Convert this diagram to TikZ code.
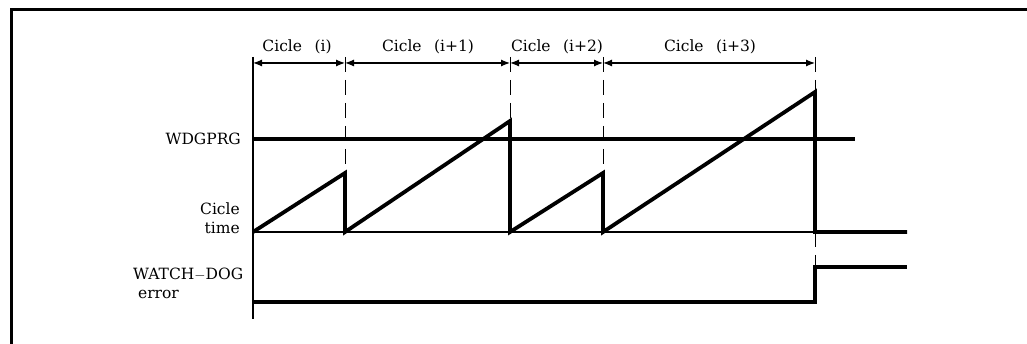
\documentclass[tikz,border=0pt]{standalone}
\usepackage{fontspec}
\setmainfont{DejaVu Serif}
\usetikzlibrary{arrows.meta}
\begin{document}
\begin{tikzpicture}[x=1pt,y=-1pt,
  sig/.style={line width=3.8pt, line join=miter},
  thinln/.style={line width=1.2pt},
  dashln/.style={line width=1pt, dash pattern=on 15pt off 8pt},
  dim/.style={line width=1.2pt, {Latex[length=9pt,width=7pt]}-{Latex[length=9pt,width=7pt]}},
  lbl/.style={font=\fontsize{15.5}{19}\selectfont, inner sep=0pt}]
\useasboundingbox (0,0) rectangle (1027,344);
% frame
\draw[line width=3pt] (1027,10) -- (11,10) -- (11,344);
% time marks
\coordinate (t0) at (253,63);
\coordinate (t1) at (345,63);
\coordinate (t2) at (510,63);
\coordinate (t3) at (603,63);
\coordinate (t4) at (815,63);
% dimension arrows
\draw[dim] (t0) -- (t1);
\draw[dim] (t1) -- (t2);
\draw[dim] (t2) -- (t3);
\draw[dim] (t3) -- (t4);
\node[lbl] (c0) at (297,47) {Cicle\ \ \,(i)};
\node[lbl] (c1) at (428,47) {Cicle\ \ \,(i+1)};
\node[lbl] (c2) at (557,47) {Cicle\ \ \,(i+2)};
\node[lbl] (c3) at (710,47) {Cicle\ \ \,(i+3)};
% axis
\coordinate (a0b) at (253,319);
\draw[thinln] (253,57) -- (a0b);
% baseline
\coordinate (b0) at (253,232);
\coordinate (b4) at (815,232);
\draw[thinln] (b0) -- (b4);
% dashed cycle boundaries
\coordinate (p1) at (345,173);
\coordinate (p2) at (510,121);
\coordinate (p3) at (603,173);
\coordinate (p4) at (815,92);
\draw[dashln] (345,57) -- (p1);
\draw[dashln] (510,57) -- (p2);
\draw[dashln] (603,57) -- (p3);
\draw[dashln] (815,57) -- (p4);
\draw[dashln] (b4) -- (815,267);
% WDGPRG
\node[lbl, anchor=east] (wdg) at (241,139) {WDGPRG};
\coordinate (w0) at (253,139);
\coordinate (w1) at (855,139);
\draw[sig] (w0) -- (w1);
% sawtooth
\coordinate (e4) at (907,232);
\draw[sig] (b0) -- (p1) -- (345,232) -- (p2) -- (510,232) -- (p3) -- (603,232) -- (p4) -- (b4) -- (e4);
\node[lbl, align=right, anchor=east] (ct) at (240,218) {Cicle\\time};
% watchdog
\coordinate (d0) at (253,302);
\coordinate (d1) at (815,302);
\coordinate (d2) at (815,267);
\coordinate (d3) at (907,267);
\draw[sig] (d0) -- (d1) -- (d2) -- (d3);
\node[lbl, align=left, anchor=west] (wd) at (133,283) {WATCH$-$DOG\\\ error};
\end{tikzpicture}
\end{document}
